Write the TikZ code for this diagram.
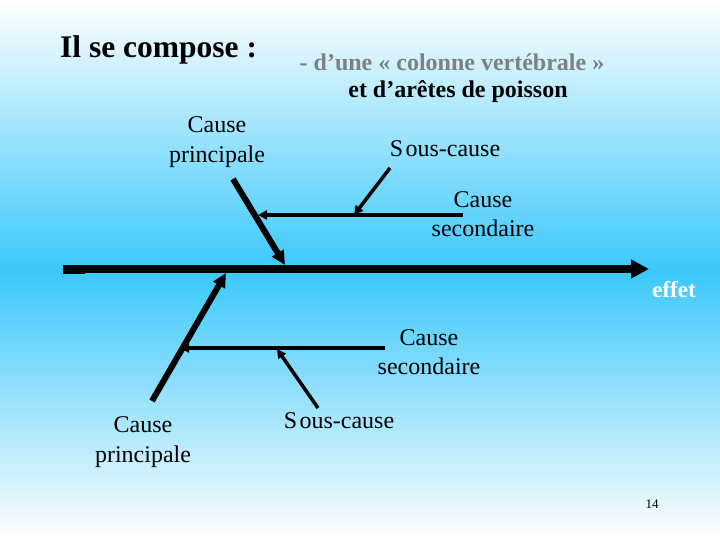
\documentclass[tikz,border=0pt]{standalone}
\usepackage{fontspec}
\setmainfont{Liberation Serif}
\usetikzlibrary{arrows.meta}
\definecolor{bgmid}{RGB}{58,200,250}
\definecolor{subgray}{RGB}{128,128,128}
\tikzset{
  lbl/.style={align=center, font=\fontsize{24}{29.5}\selectfont, inner sep=0pt},
  bone/.style={line width=6pt, -{Triangle[length=14pt,width=13pt]}},
  spineline/.style={line width=7.5pt, -{Triangle[length=18pt,width=18pt]}},
  sub/.style={line width=3.5pt, -{Triangle[length=9pt,width=9pt]}}
}
\begin{document}
\begin{tikzpicture}[x=1pt,y=-1pt]
\useasboundingbox (0,0) rectangle (720,540);
\shade[top color=white, bottom color=white, middle color=bgmid] (0,0) rectangle (720,540);
% titles
\node[anchor=west, inner sep=0pt, font=\fontsize{31.5}{34}\selectfont\bfseries] (title) at (60,50) {Il se compose :};
\node[inner sep=0pt, text=subgray, font=\fontsize{24}{28}\selectfont\bfseries] (sub1) at (452,62) {- d’une « colonne vertébrale »};
\node[inner sep=0pt, font=\fontsize{24}{28}\selectfont\bfseries] (sub2) at (458,92) {et d’arêtes de poisson};
% labels
\node[lbl] (cp1) at (217,142) {Cause\\principale};
\node[lbl] (sc1) at (445,149) {S\hspace{2.5pt}ous-cause};
\node[lbl] (cs1) at (483,214) {Cause\\secondaire};
\node[lbl] (cs2) at (429,352) {Cause\\secondaire};
\node[lbl] (sc2) at (339,421) {S\hspace{2.5pt}ous-cause};
\node[lbl] (cp2) at (143,442) {Cause\\principale};
\node[inner sep=0pt, text=white, font=\fontsize{23}{28}\selectfont\bfseries] (effet) at (674,290) {effet};
\node[inner sep=0pt, font=\fontsize{13}{15}\selectfont] (num) at (652,504) {14};
% coordinates
\coordinate (spA) at (64,269);
\coordinate (spB) at (649,269);
\coordinate (ubA) at (233,179);
\coordinate (ubB) at (285,265);
\coordinate (usA) at (463,215);
\coordinate (usB) at (258,215);
\coordinate (uxA) at (390,168);
\coordinate (uxB) at (354,215);
\coordinate (lbA) at (152,401);
\coordinate (lbB) at (226,273);
\coordinate (lsA) at (385,348);
\coordinate (lsB) at (180,348);
\coordinate (lxA) at (318,408);
\coordinate (lxB) at (277,349);
% spine
\fill (63,264.5) rectangle (85,273.5);
\draw[spineline] (spA) -- (spB);
% bones
\draw[bone] (ubA) -- (ubB);
\draw[bone] (lbA) -- (lbB);
\draw[sub] (usA) -- (usB);
\draw[sub] (uxA) -- (uxB);
\draw[sub] (lsA) -- (lsB);
\draw[sub] (lxA) -- (lxB);
\end{tikzpicture}
\end{document}
